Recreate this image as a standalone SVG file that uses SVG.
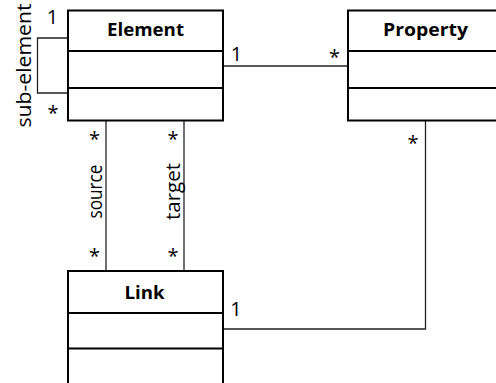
<svg xmlns="http://www.w3.org/2000/svg" width="496" height="383" viewBox="0 0 496 383">
<style>
.box{fill:#fff;stroke:#000;stroke-width:2}
.div{stroke:#000;stroke-width:2}
.title{font-family:"Open Sans","Liberation Sans",sans-serif;font-weight:bold;font-size:18px;fill:#000;text-anchor:middle}
.lbl{font-family:"Open Sans","Liberation Sans",sans-serif;font-size:20px;fill:#000;text-anchor:middle}
.conn{fill:none;stroke:#222;stroke-width:1.3}
</style>
<rect width="496" height="383" fill="#fff"/>
<g id="connectors">
<polyline class="conn" points="68,38 37.5,38 37.5,93 68,93"/>
<line class="conn" x1="223" y1="66" x2="348" y2="66"/>
<line class="conn" x1="106" y1="121" x2="106" y2="271"/>
<line class="conn" x1="184" y1="121" x2="184" y2="271"/>
<polyline class="conn" points="425.5,121 425.5,329 223,329"/>
<text class="lbl" x="52.5" y="24">1</text>
<text class="lbl" x="53" y="120">*</text>
<text class="lbl" transform="translate(30.5,65.5) rotate(-90)" textLength="124" lengthAdjust="spacingAndGlyphs">sub-element</text>
<text class="lbl" x="236.5" y="61">1</text>
<text class="lbl" x="334.5" y="64">*</text>
<text class="lbl" x="94.5" y="145.5">*</text>
<text class="lbl" x="94.5" y="263">*</text>
<text class="lbl" x="173" y="145.5">*</text>
<text class="lbl" x="173" y="263">*</text>
<text class="lbl" transform="translate(102,191.5) rotate(-90)" textLength="54" lengthAdjust="spacingAndGlyphs">source</text>
<text class="lbl" transform="translate(180,191.5) rotate(-90)" textLength="57" lengthAdjust="spacingAndGlyphs">target</text>
<text class="lbl" x="413" y="149.5">*</text>
<text class="lbl" x="236" y="316">1</text>
</g>
<g id="element">
<rect class="box" x="68" y="10.5" width="155" height="110"/>
<line class="div" x1="68" y1="51" x2="223" y2="51"/>
<line class="div" x1="68" y1="88" x2="223" y2="88"/>
<text class="title" x="145.5" y="36" textLength="77" lengthAdjust="spacingAndGlyphs">Element</text>
</g>
<g id="property">
<rect class="box" x="348" y="10.5" width="160" height="110"/>
<line class="div" x1="348" y1="51" x2="508" y2="51"/>
<line class="div" x1="348" y1="88" x2="508" y2="88"/>
<text class="title" x="425.5" y="36" textLength="85" lengthAdjust="spacingAndGlyphs">Property</text>
</g>
<g id="link">
<rect class="box" x="68" y="271" width="155" height="125"/>
<line class="div" x1="68" y1="313" x2="223" y2="313"/>
<line class="div" x1="68" y1="348.5" x2="223" y2="348.5"/>
<text class="title" x="144.5" y="299" textLength="40" lengthAdjust="spacingAndGlyphs">Link</text>
</g>
</svg>
